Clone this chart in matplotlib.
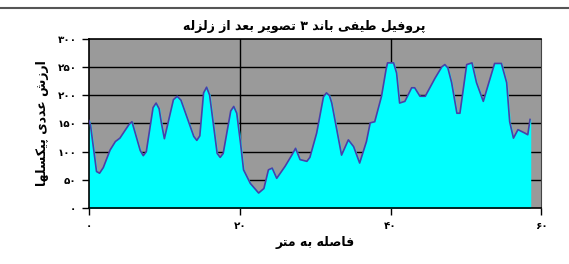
import numpy as np
import matplotlib
matplotlib.use("Agg")
import matplotlib.pyplot as plt
from matplotlib.lines import Line2D

# profile values
dist = [0.0, 0.2, 1.0, 1.4, 1.9, 2.8, 3.5, 4.1, 5.3, 5.7, 6.8, 7.2, 7.6, 8.5, 8.9,
        9.3, 9.6, 10.0, 11.2, 11.7, 12.2, 13.9, 14.3, 14.7, 15.2, 15.6, 16.0,
        17.0, 17.4, 17.8, 18.8, 19.2, 19.6, 20.1, 20.5, 21.4, 22.5, 23.2, 23.8,
        24.3, 24.9, 26.0, 26.9, 27.4, 28.0, 28.9, 29.3, 30.2, 31.1, 31.5, 31.9,
        32.2, 33.5, 34.4, 35.1, 35.9, 36.8, 37.3, 37.9, 38.8, 39.4, 39.6, 40.4,
        40.8, 41.2, 41.9, 42.8, 43.2, 43.9, 44.6, 45.9, 46.8, 47.2, 47.6, 48.1,
        48.8, 49.2, 50.1, 50.8, 51.4, 52.3, 52.9, 53.8, 54.7, 55.4, 55.8, 56.3,
        56.9, 57.8, 58.2, 58.5]
value = [155, 147, 65, 62, 72, 103, 118, 124, 148, 153, 102, 93, 100, 178, 186,
         176, 151, 123, 192, 198, 191, 127, 120, 128, 204, 214, 200,
         97, 90, 97, 172, 180, 168, 115, 68, 44, 27, 35, 68,
         71, 53, 74, 94, 106, 86, 83, 90, 133, 197, 204, 199,
         186, 94, 121, 109, 80, 118, 151, 153, 198, 245, 257, 257,
         239, 186, 189, 213, 213, 198, 198, 230, 250, 254, 248, 222,
         168, 168, 254, 257, 222, 189, 216, 256, 256, 222, 153, 124,
         139, 133, 130, 157]

xticks = [0, 20, 40, 60]
yticks = [0, 50, 100, 150, 200, 250, 300]

title = "پروفیل طیفی باند ۳ تصویر بعد از زلزله"
xlabel = "فاصله به متر"
ylabel = "ارزش عددی پیکسلها"

# (isolated, final, initial, medial)
FORMS = {
    'ا': ('\uFE8D', '\uFE8E', None, None),
    'ب': ('\uFE8F', '\uFE90', '\uFE91', '\uFE92'),
    'پ': ('\uFB56', '\uFB57', '\uFB58', '\uFB59'),
    'ت': ('\uFE95', '\uFE96', '\uFE97', '\uFE98'),
    'د': ('\uFEA9', '\uFEAA', None, None),
    'ر': ('\uFEAD', '\uFEAE', None, None),
    'ز': ('\uFEAF', '\uFEB0', None, None),
    'س': ('\uFEB1', '\uFEB2', '\uFEB3', '\uFEB4'),
    'ش': ('\uFEB5', '\uFEB6', '\uFEB7', '\uFEB8'),
    'ص': ('\uFEB9', '\uFEBA', '\uFEBB', '\uFEBC'),
    'ط': ('\uFEC1', '\uFEC2', '\uFEC3', '\uFEC4'),
    'ع': ('\uFEC9', '\uFECA', '\uFECB', '\uFECC'),
    'ف': ('\uFED1', '\uFED2', '\uFED3', '\uFED4'),
    'ک': ('\uFB8E', '\uFB8F', '\uFB90', '\uFB91'),
    'ل': ('\uFEDD', '\uFEDE', '\uFEDF', '\uFEE0'),
    'م': ('\uFEE1', '\uFEE2', '\uFEE3', '\uFEE4'),
    'ن': ('\uFEE5', '\uFEE6', '\uFEE7', '\uFEE8'),
    'ه': ('\uFEE9', '\uFEEA', '\uFEEB', '\uFEEC'),
    'و': ('\uFEED', '\uFEEE', None, None),
    'ی': ('\uFBFC', '\uFBFD', '\uFBFE', '\uFBFF'),
}


def shape(text):
    # join letters by hand and flip to visual order (no bidi in matplotlib)
    out = []
    for i, ch in enumerate(text):
        if ch not in FORMS:
            out.append(ch)
            continue
        prev = text[i - 1] if i > 0 else ''
        nxt = text[i + 1] if i < len(text) - 1 else ''
        jp = prev in FORMS and FORMS[prev][2] is not None
        jn = FORMS[ch][2] is not None and nxt in FORMS
        iso, fin, ini, med = FORMS[ch]
        if jp and jn:
            out.append(med)
        elif jp:
            out.append(fin)
        elif jn:
            out.append(ini)
        else:
            out.append(iso)
    return ''.join(out)[::-1]


def fa(n):
    return str(n).translate(str.maketrans('0123456789', '۰۱۲۳۴۵۶۷۸۹'))


plt.rcParams['font.family'] = ['DejaVu Sans']

fig = plt.figure(figsize=(5.69, 2.64), dpi=100)
ax = fig.add_axes([0.1564, 0.211, 0.795, 0.643])
ax.set_facecolor('#9a9a9a')

ax.fill_between(dist, value, 0, color='#00ffff', zorder=2)
ax.plot(dist, value, color='#4a3fa8', lw=1.2, zorder=3)

ax.set_xlim(0, 60)
ax.set_ylim(0, 300)
ax.set_xticks(xticks)
ax.set_yticks(yticks)
ax.set_xticklabels([fa(t) for t in xticks], fontsize=7.5, fontweight='bold')
ax.set_yticklabels([fa(t) for t in yticks], fontsize=7.5, fontweight='bold')
ax.tick_params(direction='out', length=5, width=1, color='black', pad=4)

for y in yticks[1:-1]:
    ax.axhline(y, color='black', lw=1, zorder=1)
for x in xticks[1:-1]:
    ax.axvline(x, color='black', lw=1, zorder=1)

for s in ['left', 'bottom', 'top']:
    ax.spines[s].set_color('black')
    ax.spines[s].set_linewidth(1.2)
ax.spines['right'].set_color('#444444')

ax.set_title(shape(title), fontsize=9, fontweight='bold', pad=6, x=0.475)
ax.set_xlabel(shape(xlabel), fontsize=9, fontweight='bold', labelpad=4)
ax.set_ylabel(shape(ylabel), fontsize=9, fontweight='bold', labelpad=6)

fig.add_artist(Line2D([0, 1], [1 - 8 / 264, 1 - 8 / 264], color='#555555', lw=1.5))

fig.savefig('out.png', dpi=100)
